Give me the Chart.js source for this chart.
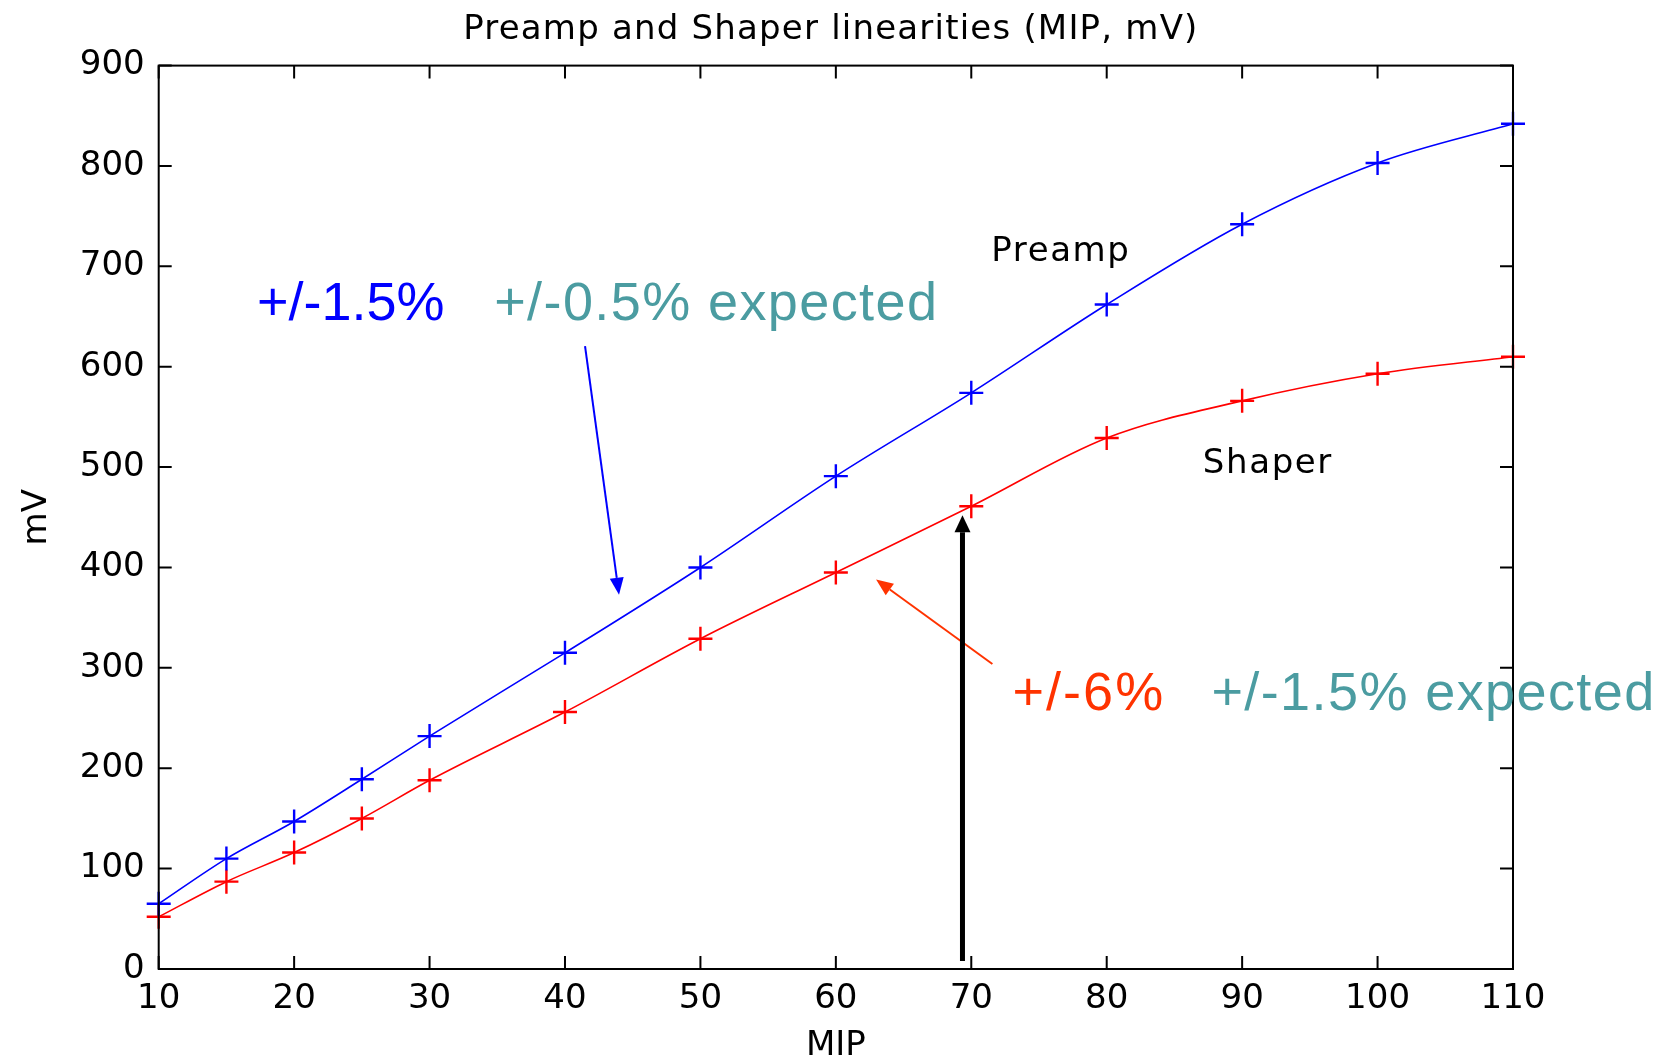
<!DOCTYPE html>
<html>
<head>
<meta charset="utf-8">
<title>Preamp and Shaper linearities</title>
<script src="https://cdn.jsdelivr.net/npm/chart.js@4.4.1/dist/chart.umd.min.js"></script>
<style>
  html, body { margin: 0; padding: 0; background: #fff; overflow: hidden; }
</style>
</head>
<body>
<canvas id="chart" width="1659" height="1060" aria-label="Preamp and Shaper linearities (MIP, mV)"></canvas>
<script>
// data
const mipValues = [10, 15, 20, 25, 30, 40, 50, 60, 70, 80, 90, 100, 110];
const preampMv = [65, 110, 147, 189, 232, 315, 400, 491, 574, 662, 742, 803, 842];
const shaperMv = [52, 87, 116, 150, 188, 256, 329, 395, 461, 529, 566, 593, 610];

const xTickValues = [10, 20, 30, 40, 50, 60, 70, 80, 90, 100, 110];
const yTickValues = [0, 100, 200, 300, 400, 500, 600, 700, 800, 900];

const chartTitle = "Preamp and Shaper linearities (MIP, mV)";

// annotations, in data units (MIP, mV)
const noteTexts = ["+/-1.5%", "+/-0.5% expected", "+/-6%", "+/-1.5% expected", "Preamp", "Shaper"];
const noteAnchors = [[17.26, 647], [34.77, 647], [73.05, 258], [87.73, 258], [71.48, 705], [87.1, 494]];
const arrowTails = [[41.48, 620.5], [71.56, 303.8], [69.35, 8]];
const arrowTips = [[43.99, 372.9], [62.97, 388], [69.35, 452]];

const MATLAB_FONT = "'DejaVu Sans', sans-serif";
const PPT_FONT = "'Liberation Sans', Arial, sans-serif";

const noteStyles = [
  { color: "#0000ff", font: "54px " + PPT_FONT, spacing: "0px" },
  { color: "#4b9ca1", font: "54px " + PPT_FONT, spacing: "1.4px" },
  { color: "#ff3300", font: "54px " + PPT_FONT, spacing: "2px" },
  { color: "#4b9ca1", font: "54px " + PPT_FONT, spacing: "1.4px" },
  { color: "#000000", font: "34px " + MATLAB_FONT, spacing: "1.6px" },
  { color: "#000000", font: "34px " + MATLAB_FONT, spacing: "1.6px" },
];
const arrowStyles = [
  { color: "#0000ff", width: 2, head: 17, headW: 14 },
  { color: "#ff3300", width: 2, head: 17, headW: 14 },
  { color: "#000000", width: 5, head: 17, headW: 16 },
];

function drawArrow(ctx, x1, y1, x2, y2, st) {
  const ang = Math.atan2(y2 - y1, x2 - x1);
  const bx = x2 - st.head * Math.cos(ang);
  const by = y2 - st.head * Math.sin(ang);
  ctx.strokeStyle = st.color;
  ctx.lineWidth = st.width;
  ctx.beginPath();
  ctx.moveTo(x1, y1);
  ctx.lineTo(bx, by);
  ctx.stroke();
  ctx.fillStyle = st.color;
  ctx.beginPath();
  ctx.moveTo(x2, y2);
  ctx.lineTo(bx + (st.headW / 2) * Math.sin(ang), by - (st.headW / 2) * Math.cos(ang));
  ctx.lineTo(bx - (st.headW / 2) * Math.sin(ang), by + (st.headW / 2) * Math.cos(ang));
  ctx.closePath();
  ctx.fill();
}

// matlab style box with inward ticks on all four sides, the title, plus the slide annotations
const boxAndNotes = {
  id: "boxAndNotes",
  afterDraw(chart) {
    const { ctx, chartArea: a, scales } = chart;
    const tickLen = 13;
    ctx.save();
    ctx.strokeStyle = "#000";
    ctx.lineWidth = 2;
    ctx.strokeRect(a.left, a.top, a.right - a.left, a.bottom - a.top);
    ctx.beginPath();
    xTickValues.forEach((v) => {
      const x = scales.x.getPixelForValue(v);
      ctx.moveTo(x, a.bottom); ctx.lineTo(x, a.bottom - tickLen);
      ctx.moveTo(x, a.top); ctx.lineTo(x, a.top + tickLen);
    });
    yTickValues.forEach((v) => {
      const y = scales.y.getPixelForValue(v);
      ctx.moveTo(a.left, y); ctx.lineTo(a.left + tickLen, y);
      ctx.moveTo(a.right, y); ctx.lineTo(a.right - tickLen, y);
    });
    ctx.stroke();

    // title, centred a little left of the plot centre like the original
    ctx.fillStyle = "#000";
    ctx.font = "34px " + MATLAB_FONT;
    ctx.letterSpacing = "1.2px";
    ctx.textAlign = "center";
    ctx.textBaseline = "alphabetic";
    ctx.fillText(chartTitle, (a.left + a.right) / 2 - 5, a.top - 27);

    arrowTails.forEach((t, i) => {
      const p = arrowTips[i];
      drawArrow(ctx,
        scales.x.getPixelForValue(t[0]), scales.y.getPixelForValue(t[1]),
        scales.x.getPixelForValue(p[0]), scales.y.getPixelForValue(p[1]),
        arrowStyles[i]);
    });

    ctx.textAlign = "left";
    noteTexts.forEach((txt, i) => {
      ctx.fillStyle = noteStyles[i].color;
      ctx.font = noteStyles[i].font;
      ctx.letterSpacing = noteStyles[i].spacing;
      ctx.fillText(txt,
        scales.x.getPixelForValue(noteAnchors[i][0]),
        scales.y.getPixelForValue(noteAnchors[i][1]));
    });
    ctx.restore();
  },
};

const tickFont = { family: MATLAB_FONT, size: 34, lineHeight: 1.2 };

new Chart(document.getElementById("chart"), {
  type: "line",
  data: {
    datasets: [
      {
        label: "Preamp",
        data: mipValues.map((x, i) => ({ x, y: preampMv[i] })),
        borderColor: "#0000ff",
        backgroundColor: "#0000ff",
        borderWidth: 1.6,
        pointStyle: "cross",
        pointRadius: 12,
        pointBorderWidth: 2.4,
        cubicInterpolationMode: "monotone",
        clip: false,
      },
      {
        label: "Shaper",
        data: mipValues.map((x, i) => ({ x, y: shaperMv[i] })),
        borderColor: "#ff0000",
        backgroundColor: "#ff0000",
        borderWidth: 1.6,
        pointStyle: "cross",
        pointRadius: 12,
        pointBorderWidth: 2.4,
        cubicInterpolationMode: "monotone",
        clip: false,
      },
    ],
  },
  options: {
    responsive: false,
    animation: false,
    devicePixelRatio: 1,
    layout: { padding: { top: 65.6, left: 0, right: 146, bottom: 0 } },
    plugins: {
      legend: { display: false },
      tooltip: { enabled: false },
      title: { display: false },
    },
    scales: {
      x: {
        type: "linear",
        min: 10,
        max: 110,
        afterBuildTicks: (s) => { s.ticks = xTickValues.map((v) => ({ value: v })); },
        afterFit: (s) => { s.height = 91; },
        grid: { display: false, drawTicks: false },
        border: { display: false },
        ticks: { color: "#000", font: tickFont, padding: 10, maxRotation: 0, autoSkip: false },
        title: {
          display: true,
          text: "MIP",
          color: "#000",
          font: { family: MATLAB_FONT, size: 34, lineHeight: 1 },
          padding: { top: 0, bottom: -3 },
        },
      },
      y: {
        type: "linear",
        min: 0,
        max: 900,
        afterBuildTicks: (s) => { s.ticks = yTickValues.map((v) => ({ value: v })); },
        afterFit: (s) => { s.width = 158.7; },
        grid: { display: false, drawTicks: false },
        border: { display: false },
        ticks: { color: "#000", font: tickFont, padding: 14, autoSkip: false },
        title: {
          display: true,
          text: "mV",
          color: "#000",
          font: { family: MATLAB_FONT, size: 34, lineHeight: 1 },
          padding: { top: 20, bottom: 0 },
        },
      },
    },
  },
  plugins: [boxAndNotes],
});
</script>
</body>
</html>
